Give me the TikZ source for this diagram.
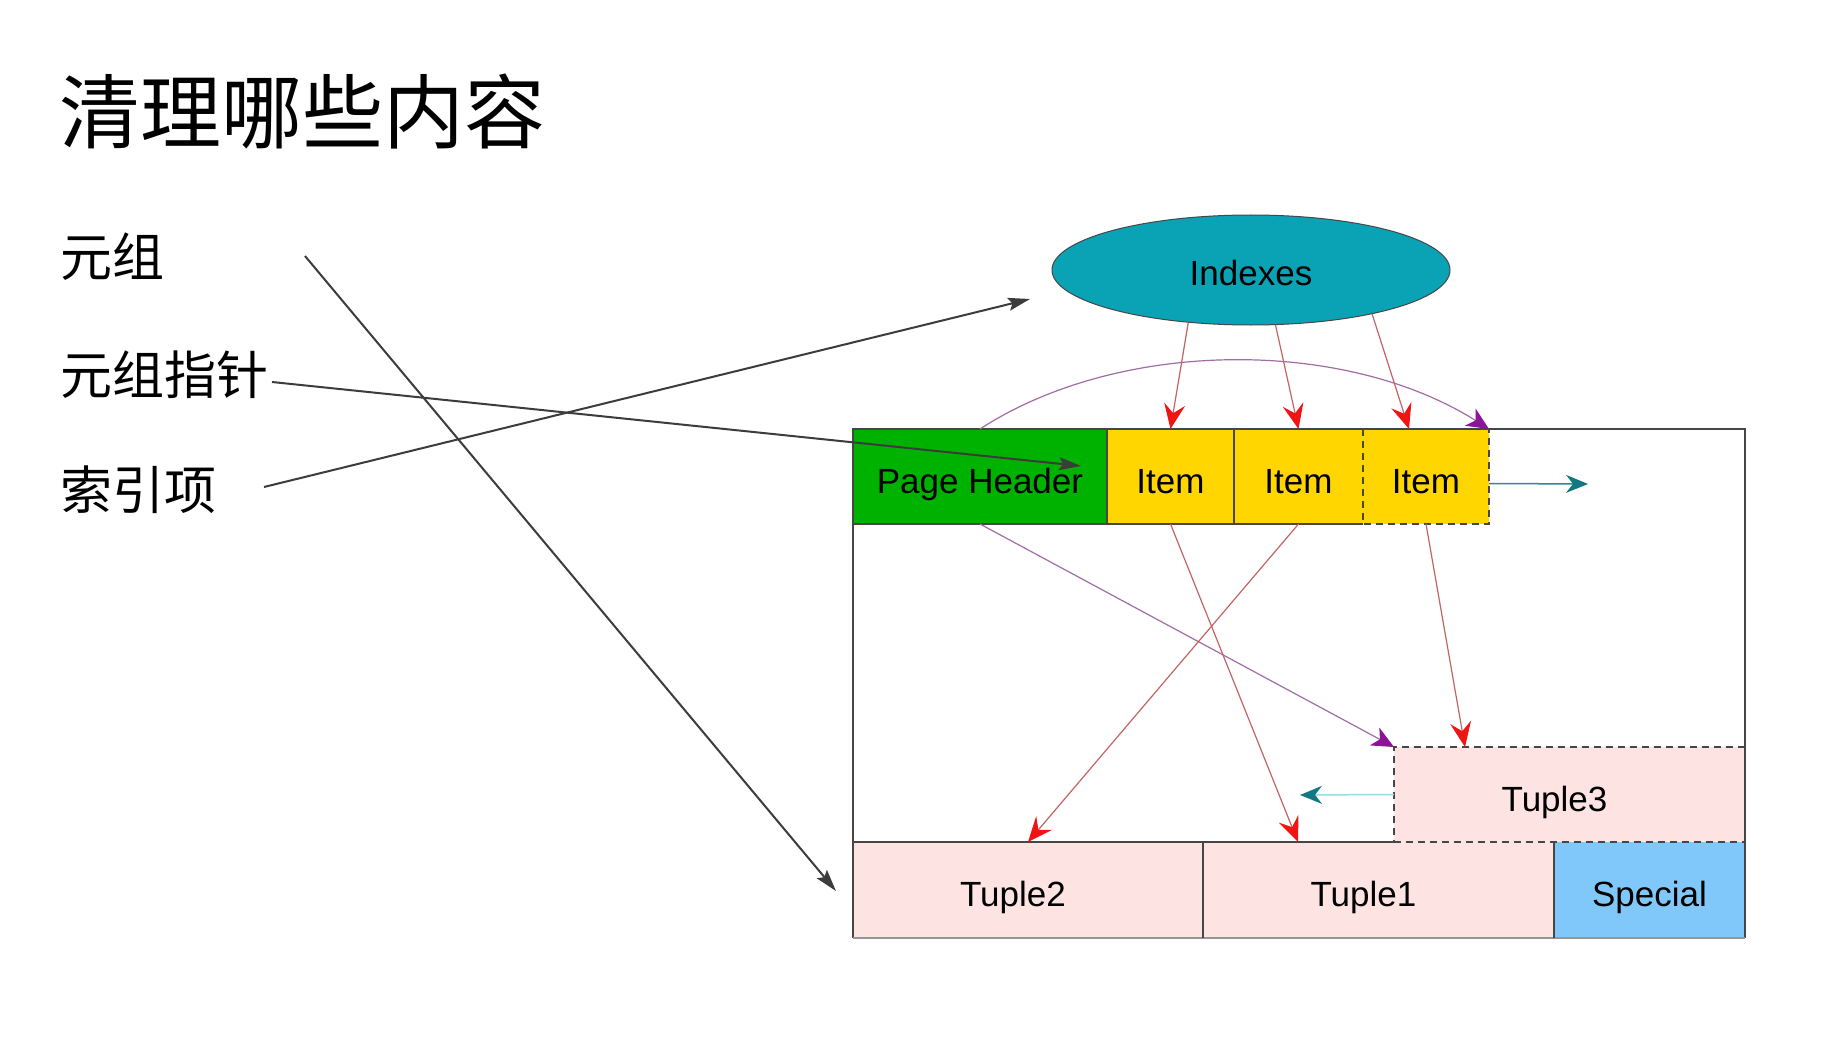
\documentclass[tikz,border=0pt]{standalone}
\usepackage{fontspec}
\setmainfont{Liberation Sans}
\newfontfamily\cjk{Noto Sans CJK SC}
\usetikzlibrary{shapes.geometric,arrows.meta,calc}
\definecolor{phgreen}{RGB}{0,178,0}
\definecolor{itemyellow}{RGB}{255,214,0}
\definecolor{tuplepink}{RGB}{253,227,225}
\definecolor{specialblue}{RGB}{128,200,250}
\definecolor{idxteal}{RGB}{10,163,181}
\definecolor{bordergray}{RGB}{70,70,70}
\definecolor{lightborder}{RGB}{150,150,150}
\definecolor{arrowgray}{RGB}{60,60,60}
\definecolor{redline}{RGB}{195,100,100}
\definecolor{redtip}{RGB}{240,20,20}
\definecolor{purpleline}{RGB}{160,110,165}
\definecolor{purpletip}{RGB}{140,20,150}
\definecolor{tealline}{RGB}{40,140,150}
\definecolor{tealtip}{RGB}{20,120,130}
\definecolor{cyanline}{RGB}{150,220,230}
\begin{document}
\begin{tikzpicture}[x=1pt,y=-1pt,
  cell/.style={rectangle, inner sep=0pt, outer sep=0pt, anchor=north west, draw=none, text height=33pt, text depth=0pt, font=\fontsize{35}{40}\selectfont},
  cjktitle/.style={inner sep=0pt, anchor=west, font=\cjk\fontsize{81}{96}\selectfont},
  cjklabel/.style={inner sep=0pt, anchor=west, font=\cjk\fontsize{52}{62}\selectfont},
  border/.style={draw=bordergray, line width=1.5pt},
  dborder/.style={draw=bordergray, line width=1.5pt, dash pattern=on 7pt off 5pt},
  grayarrow/.style={draw=arrowgray, line width=2pt, -{Stealth[length=22pt,width=13pt,inset=4pt]}},
  redarrow/.style={draw=redline, line width=1.2pt, -{Stealth[length=25pt,width=21pt,inset=9pt,color=redtip]}},
  purplearrow/.style={draw=purpleline, line width=1.2pt, -{Stealth[length=22pt,width=20pt,inset=6pt,color=purpletip]}},
  tealarrow/.style={line width=1.5pt, -{Stealth[length=22pt,width=18pt,inset=7pt,color=tealtip]}}
]
\useasboundingbox (0,0) rectangle (1839,1043);
\fill[white] (0,0) rectangle (1839,1043);

% title and labels
\node[cjktitle] (title) at (59,112) {清理哪些内容};
\node[cjklabel] (l1) at (60,257) {元组};
\node[cjklabel] (l2) at (60,375) {元组指针};
\node[cjklabel] (l3) at (60,490) {索引项};

% Indexes ellipse
\node[ellipse, fill=idxteal, draw=bordergray, line width=1pt, minimum width=398pt, minimum height=110pt, inner sep=0pt, text height=31pt, text depth=0pt, font=\fontsize{35}{40}\selectfont] (idx) at (1251,270) {Indexes};

% page cells
\node[cell, fill=phgreen, minimum width=254pt, minimum height=95pt] (ph) at (853,429) {Page Header};
\node[cell, fill=itemyellow, minimum width=127pt, minimum height=95pt] (it1) at (1107,429) {Item};
\node[cell, fill=itemyellow, minimum width=129pt, minimum height=95pt] (it2) at (1234,429) {Item};
\node[cell, fill=itemyellow, minimum width=126pt, minimum height=95pt] (it3) at (1363,429) {Item};
\node[cell, fill=tuplepink, minimum width=351pt, minimum height=95pt] (t3) at (1394,747) {\hspace*{-30pt}Tuple3};
\node[cell, fill=tuplepink, minimum width=350pt, minimum height=96pt] (t2) at (853,842) {\hspace*{-30pt}Tuple2};
\node[cell, fill=tuplepink, minimum width=351pt, minimum height=96pt] (t1) at (1203,842) {\hspace*{-30pt}Tuple1};
\node[cell, fill=specialblue, minimum width=191pt, minimum height=96pt] (sp) at (1554,842) {Special};

\coordinate (pageNE) at (1745,429);

% borders
\draw[border] (t2.south west) -- (ph.north west) -- (pageNE) -- (sp.south east);
\draw[draw=lightborder, line width=1.5pt] (sp.south east) -- (t2.south west);
\draw[border] (ph.south west) -- (it2.south east);
\draw[border] (ph.north east) -- (ph.south east);
\draw[border] (it1.north east) -- (it1.south east);
\draw[dborder] (it3.north west) -- (it3.south west) -- (it3.south east) -- (it3.north east);
\draw[border] (t2.north west) -- (t3.south west);
\draw[dborder] (t3.south west) -- (t3.south east);
\draw[dborder] (t3.north east) -- (t3.north west) -- (t3.south west);
\draw[border] (t2.north east) -- (t2.south east);
\draw[border] (t1.north east) -- (t1.south east);

% gray arrows from labels
\coordinate (s1) at (305,256);
\coordinate (e1) at (836,891);
\coordinate (s2) at (272,382);
\coordinate (e2) at (1081,466);
\coordinate (s3) at (264,487);
\coordinate (e3) at (1030,299);
\draw[grayarrow] (s1) -- (e1);
\draw[grayarrow] (s2) -- (e2);
\draw[grayarrow] (s3) -- (e3);

% purple curve and purple arrow
\draw[purplearrow] (ph.north) .. controls (1120,338) and (1345,338) .. (it3.north east);
\draw[purplearrow] (ph.south) -- (t3.north west);

% red arrows
\draw[redarrow] (idx.220) -- (it1.north);
\draw[redarrow] (idx.294) -- (it2.north);
\draw[redarrow] (idx.340) -- ($(it3.north)+(-17,0)$);
\draw[redarrow] (it1.south) -- ($(t1.north west)+(95,0)$);
\draw[redarrow] (it2.south) -- (t2.north);
\draw[redarrow] (it3.south) -- ($(t3.north west)+(71,0)$);

% teal arrows
\coordinate (te1) at (1588,484);
\coordinate (te2) at (1300,795);
\draw[tealarrow, draw=tealline] ($(it3.east)+(0,7)$) -- (te1);
\draw[tealarrow, draw=cyanline] (t3.west) -- (te2);
\end{tikzpicture}
\end{document}
